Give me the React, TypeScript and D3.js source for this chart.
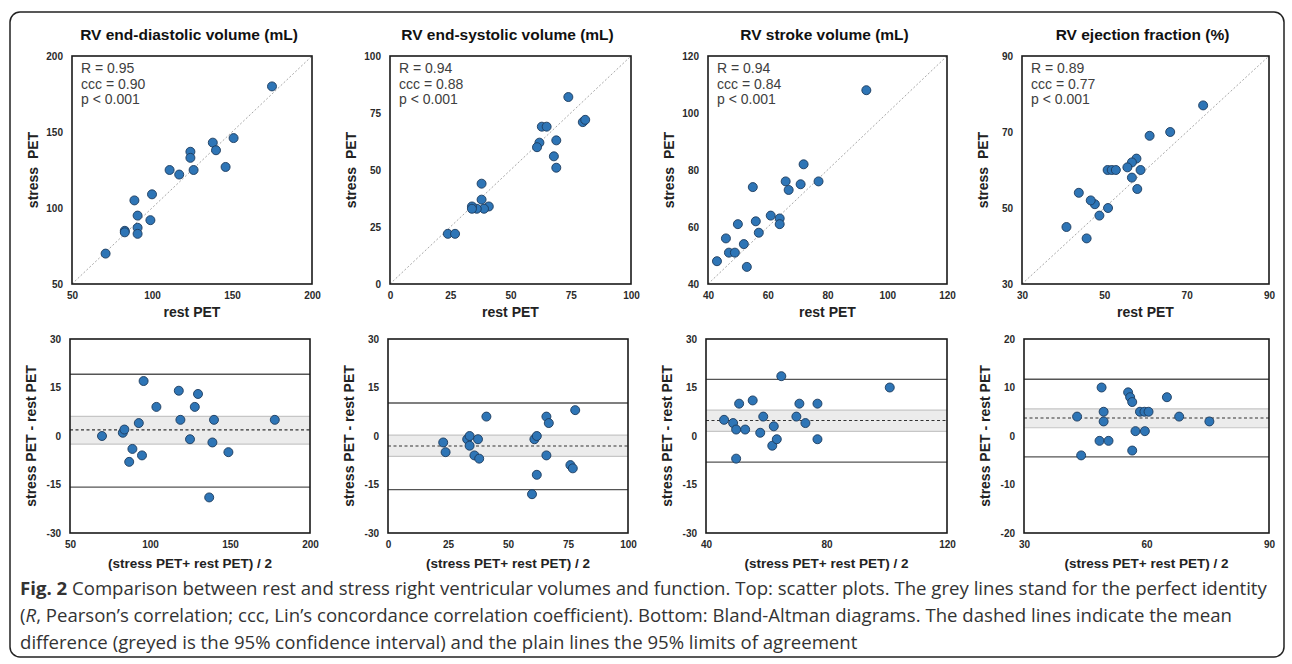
import { useEffect, useRef } from 'react';
import * as d3 from 'd3';

// panel titles and correlation text
const titles = [
  'RV end-diastolic volume (mL)',
  'RV end-systolic volume (mL)',
  'RV stroke volume (mL)',
  'RV ejection fraction (%)',
];
const statText = [
  ['R = 0.95', 'ccc = 0.90', 'p < 0.001'],
  ['R = 0.94', 'ccc = 0.88', 'p < 0.001'],
  ['R = 0.94', 'ccc = 0.84', 'p < 0.001'],
  ['R = 0.89', 'ccc = 0.77', 'p < 0.001'],
];

// scatter: rest PET (x) vs stress PET (y)
const edvRest = [175, 151, 138, 140, 146, 124, 124, 126, 111, 117, 100, 89, 91, 99, 91, 91, 83, 83, 71];
const edvStress = [180, 146, 143, 138, 127, 137, 133, 125, 125, 122, 109, 105, 95, 92, 87, 83, 85, 84, 70];
const esvRest = [74, 80, 81, 63, 65, 62, 61, 69, 68, 69, 38, 38, 41, 39, 36, 34, 34, 24, 27];
const esvStress = [82, 71, 72, 69, 69, 62, 60, 63, 56, 51, 44, 37, 34, 33, 33, 34, 33, 22, 22];
const svRest = [93, 72, 71, 77, 66, 67, 55, 61, 64, 64, 56, 57, 50, 46, 52, 47, 49, 53, 43];
const svStress = [108, 82, 75, 76, 76, 73, 74, 64, 63, 61, 62, 58, 61, 56, 54, 51, 51, 46, 48];
const efRest = [74, 66, 61, 57.8, 56.7, 55.6, 58.8, 56.7, 58, 50.8, 51.8, 52.8, 50.9, 48.8, 47.7, 46.7, 43.8, 40.8, 45.7];
const efStress = [77, 70, 69, 63, 62, 60.7, 60, 58, 55, 60, 60, 60, 50, 48, 51, 52, 54, 45, 42];

// Bland-Altman: mean of both (x) vs difference (y)
const edvAvg = [70, 83, 84, 93, 89, 87, 95, 96, 104, 118, 119, 130, 128, 125, 139, 140, 137, 149, 178];
const edvDiff = [0, 1, 2, 4, -4, -8, -6, 17, 9, 14, 5, 13, 9, -1, -2, 5, -19, -5, 5];
const esvAvg = [23, 24, 33, 34, 34, 36, 37.5, 38, 41, 60, 61, 62, 62, 66, 67, 66, 76, 77, 78];
const esvDiff = [-2, -5, -1, 0, -3, -6, -1, -7, 6, -18, -1, 0, -12, 6, 4, -6, -9, -10, 8];
const svAvg = [46, 49, 50, 53, 51, 50, 55.5, 58, 59, 62.5, 62, 63.5, 65, 70, 71, 73, 77, 77, 101];
const svDiff = [5, 4, 2, 2, 10, -7, 11, 1, 6, 3, -3, -1, 18.5, 6, 10, 4, 10, -1, 15];
const efAvg = [43, 44, 49, 49.5, 49.5, 48.5, 50.7, 55.5, 56, 56.5, 56.5, 57.3, 58.4, 59.5, 60.5, 59.6, 65, 68, 75.4];
const efDiff = [4, -4, 10, 5, 3, -1, -1, 9, 8, 7, -3, 1, 5, 5, 5, 1, 8, 4, 3];

// mean, CI low, CI high, LoA low, LoA high
const edvLines = [1.9, -2.5, 6.1, -15.8, 19.1];
const esvLines = [-3.1, -6.3, 0.3, -16.6, 10.2];
const svLines = [4.8, 1.4, 8.0, -8.1, 17.5];
const efLines = [3.7, 1.7, 5.6, -4.3, 11.7];

const scatterDomains = [[50, 200], [0, 100], [40, 120], [30, 90]];
const scatterTicks = [[50, 100, 150, 200], [0, 25, 50, 75, 100], [40, 60, 80, 100, 120], [30, 50, 70, 90]];
const baXTicks = [[50, 100, 150, 200], [0, 25, 50, 75, 100], [40, 80, 120], [30, 60, 90]];
const baYDomains = [[-30, 30], [-30, 30], [-30, 30], [-20, 20]];
const baYTicks = [[-30, -15, 0, 15, 30], [-30, -15, 0, 15, 30], [-30, -15, 0, 15, 30], [-20, -10, 0, 10, 20]];

const captionLines = [
  'Comparison between rest and stress right ventricular volumes and function. Top: scatter plots. The grey lines stand for the perfect identity',
  ', Pearson\u2019s correlation; ccc, Lin\u2019s concordance correlation coefficient). Bottom: Bland-Altman diagrams. The dashed lines indicate the mean',
  'difference (greyed is the 95% confidence interval) and the plain lines the 95% limits of agreement',
];

const rests = [edvRest, esvRest, svRest, efRest];
const stresses = [edvStress, esvStress, svStress, efStress];
const avgs = [edvAvg, esvAvg, svAvg, efAvg];
const diffs = [edvDiff, esvDiff, svDiff, efDiff];
const baLines = [edvLines, esvLines, svLines, efLines];

const W = 1292;
const H = 664;
const topY = [56, 284];
const botY = [339, 533];
const topCols = [[72, 312], [390, 631], [708, 947], [1022, 1269]];
const botCols = [[70, 310], [388, 628], [706, 947], [1024, 1269]];

const FONT = '"Liberation Sans", Arial, sans-serif';
const DOT = '#2e75b6';
const DOT_EDGE = '#1d3b5c';

const styleAxis = (a: any) => {
  a.select('.domain').remove();
  a.selectAll('text')
    .attr('font-family', FONT)
    .attr('font-size', 10)
    .attr('font-weight', 'bold')
    .attr('fill', '#2a2a2a');
};

const App = () => {
  const svgRef = useRef<SVGSVGElement>(null);

  useEffect(() => {
    if (!svgRef.current) return;
    const svg = d3.select(svgRef.current);
    svg.selectAll('*').remove();

    svg.append('rect')
      .attr('x', 10).attr('y', 12).attr('width', 1274).attr('height', 645)
      .attr('rx', 10).attr('fill', 'white').attr('stroke', '#222').attr('stroke-width', 1.5);

    const fmt = (d: any) => String(d);

    for (let i = 0; i < 4; i++) {
      // ---- top: scatter
      const [lo, hi] = scatterDomains[i];
      const x = d3.scaleLinear().domain([lo, hi]).range(topCols[i]);
      const y = d3.scaleLinear().domain([lo, hi]).range([topY[1], topY[0]]);
      const g = svg.append('g');
      const cx = (topCols[i][0] + topCols[i][1]) / 2;

      g.append('text')
        .attr('x', cx - 3).attr('y', 40)
        .attr('text-anchor', 'middle')
        .attr('font-family', FONT).attr('font-size', 15.5).attr('font-weight', 'bold')
        .attr('fill', '#111')
        .text(titles[i]);

      g.append('line')
        .attr('x1', x(lo)).attr('y1', y(lo)).attr('x2', x(hi)).attr('y2', y(hi))
        .attr('stroke', '#a8a8a8').attr('stroke-width', 1).attr('stroke-dasharray', '2,2');

      g.selectAll('circle')
        .data(rests[i].map((r, k) => [r, stresses[i][k]]))
        .join('circle')
        .attr('cx', d => x(d[0])).attr('cy', d => y(d[1])).attr('r', 4.5)
        .attr('fill', DOT).attr('stroke', DOT_EDGE).attr('stroke-width', 0.9);

      g.append('rect')
        .attr('x', topCols[i][0]).attr('y', topY[0])
        .attr('width', topCols[i][1] - topCols[i][0]).attr('height', topY[1] - topY[0])
        .attr('fill', 'none').attr('stroke', '#1a1a1a').attr('stroke-width', 1.6);

      g.append('g')
        .attr('transform', `translate(${topCols[i][0]},0)`)
        .call(d3.axisLeft(y).tickValues(scatterTicks[i]).tickFormat(fmt).tickSize(0).tickPadding(9))
        .call(styleAxis);
      g.append('g')
        .attr('transform', `translate(0,${topY[1]})`)
        .call(d3.axisBottom(x).tickValues(scatterTicks[i]).tickFormat(fmt).tickSize(0).tickPadding(8))
        .call(styleAxis);

      statText[i].forEach((t, k) => {
        g.append('text')
          .attr('x', topCols[i][0] + 9).attr('y', 73 + k * 15.7)
          .attr('font-family', FONT).attr('font-size', 14).attr('fill', '#404040')
          .text(t);
      });

      g.append('text')
        .attr('x', cx).attr('y', 317)
        .attr('text-anchor', 'middle')
        .attr('font-family', FONT).attr('font-size', 14).attr('font-weight', 'bold').attr('fill', '#222')
        .text('rest PET');
      g.append('text')
        .attr('transform', `translate(${topCols[i][0] - 34},${(topY[0] + topY[1]) / 2}) rotate(-90)`)
        .attr('text-anchor', 'middle')
        .attr('font-family', FONT).attr('font-size', 14).attr('font-weight', 'bold').attr('fill', '#222')
        .attr('xml:space', 'preserve')
        .text('stress  PET');

      // ---- bottom: Bland-Altman
      const bx = d3.scaleLinear().domain(scatterDomains[i]).range(botCols[i]);
      const by = d3.scaleLinear().domain(baYDomains[i]).range([botY[1], botY[0]]);
      const b = svg.append('g');
      const [mean, ciLo, ciHi, loaLo, loaHi] = baLines[i];
      const bx0 = botCols[i][0];
      const bx1 = botCols[i][1];

      b.append('rect')
        .attr('x', bx0).attr('y', by(ciHi)).attr('width', bx1 - bx0).attr('height', by(ciLo) - by(ciHi))
        .attr('fill', '#ececec');
      b.selectAll('line.ci')
        .data([ciLo, ciHi])
        .join('line')
        .attr('class', 'ci')
        .attr('x1', bx0).attr('x2', bx1).attr('y1', d => by(d)).attr('y2', d => by(d))
        .attr('stroke', '#c6c6c6').attr('stroke-width', 1.2);
      b.append('line')
        .attr('x1', bx0).attr('x2', bx1).attr('y1', by(mean)).attr('y2', by(mean))
        .attr('stroke', '#333').attr('stroke-width', 1.1).attr('stroke-dasharray', '3,2.5');
      b.selectAll('line.loa')
        .data([loaLo, loaHi])
        .join('line')
        .attr('class', 'loa')
        .attr('x1', bx0).attr('x2', bx1).attr('y1', d => by(d)).attr('y2', d => by(d))
        .attr('stroke', '#555').attr('stroke-width', 1.3);

      b.selectAll('circle')
        .data(avgs[i].map((m, k) => [m, diffs[i][k]]))
        .join('circle')
        .attr('cx', d => bx(d[0])).attr('cy', d => by(d[1])).attr('r', 4.5)
        .attr('fill', DOT).attr('stroke', DOT_EDGE).attr('stroke-width', 0.9);

      b.append('rect')
        .attr('x', bx0).attr('y', botY[0]).attr('width', bx1 - bx0).attr('height', botY[1] - botY[0])
        .attr('fill', 'none').attr('stroke', '#1a1a1a').attr('stroke-width', 1.6);

      b.append('g')
        .attr('transform', `translate(${bx0},0)`)
        .call(d3.axisLeft(by).tickValues(baYTicks[i]).tickFormat(fmt).tickSize(0).tickPadding(9))
        .call(styleAxis);
      b.append('g')
        .attr('transform', `translate(0,${botY[1]})`)
        .call(d3.axisBottom(bx).tickValues(baXTicks[i]).tickFormat(fmt).tickSize(0).tickPadding(8))
        .call(styleAxis);

      b.append('text')
        .attr('transform', `translate(${bx0 - 34},${(botY[0] + botY[1]) / 2}) rotate(-90)`)
        .attr('text-anchor', 'middle')
        .attr('font-family', FONT).attr('font-size', 14).attr('font-weight', 'bold').attr('fill', '#222')
        .text('stress PET - rest PET');
      b.append('text')
        .attr('x', (bx0 + bx1) / 2).attr('y', 568)
        .attr('text-anchor', 'middle')
        .attr('font-family', FONT).attr('font-size', 13.5).attr('font-weight', 'bold').attr('fill', '#222')
        .text('(stress PET+ rest PET) / 2');
    }

    // caption
    const cap = svg.append('g')
      .attr('font-family', '"Open Sans", sans-serif').attr('font-size', 18.6).attr('fill', '#333');
    const l1 = cap.append('text').attr('x', 20).attr('y', 595);
    l1.append('tspan').attr('font-weight', 'bold').text('Fig. 2');
    l1.append('tspan').text(' ' + captionLines[0]);
    const l2 = cap.append('text').attr('x', 20).attr('y', 622);
    l2.append('tspan').text('(');
    l2.append('tspan').attr('font-style', 'italic').text('R');
    l2.append('tspan').text(captionLines[1]);
    cap.append('text').attr('x', 20).attr('y', 649).text(captionLines[2]);
  }, []);

  return (
    <svg
      ref={svgRef}
      width={W}
      height={H}
      style={{ position: 'absolute', left: 0, top: 0, background: 'white' }}
    />
  );
};

export default App;
